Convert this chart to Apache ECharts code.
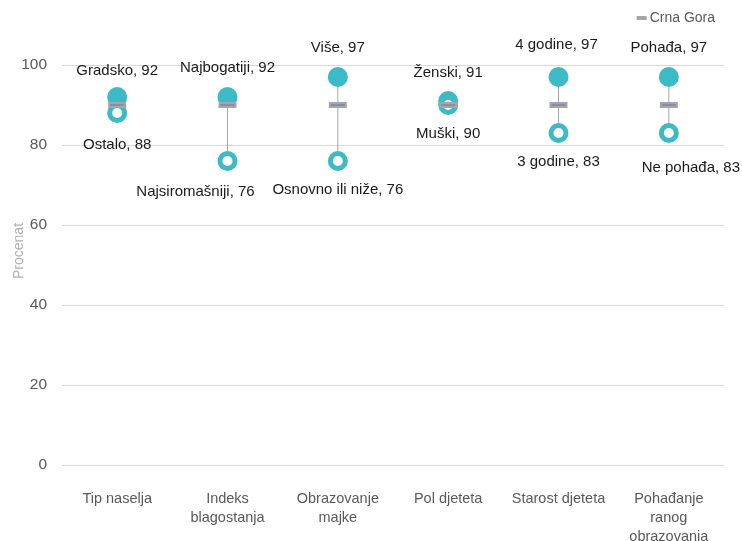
<!DOCTYPE html>
<html>
	<head>
		<meta charset="utf-8">
		<script src="https://cdn.jsdelivr.net/npm/echarts@6/dist/echarts.min.js"></script>
		<title></title>
		<style>
			body { margin: 0; background: #fff; }
		</style>
	</head>
	<body>
		<div id="main" style="width: 742px;height:541px;"></div>
		<script type="text/javascript">
			// kategorije i vrijednosti
			var categories = ['Tip naselja', 'Indeks\nblagostanja', 'Obrazovanje\nmajke', 'Pol djeteta', 'Starost djeteta', 'Pohađanje\nranog\nobrazovanja'];
			var highNames = ['Gradsko', 'Najbogatiji', 'Više', 'Ženski', '4 godine', 'Pohađa'];
			var highValues = [92, 92, 97, 91, 97, 97];
			var lowNames = ['Ostalo', 'Najsiromašniji', 'Osnovno ili niže', 'Muški', '3 godine', 'Ne pohađa'];
			var lowValues = [88, 76, 76, 90, 83, 83];
			var nationalValues = [90, 90, 90, 90, 90, 90];
			var yTicks = [0, 20, 40, 60, 80, 100];

			// pomjeranje natpisa (px)
			var highOffsets = [[0, -26], [0, -29], [0, -29], [0, -28], [-2, -32], [0, -29]];
			var lowOffsets = [[0, 32], [-32, 31], [0, 29], [0, 29], [0, 29], [22, 35]];

			var teal = '#3cbac6';
			var font = 'Liberation Sans';

			var myChart = echarts.init(document.getElementById('main'));

			var highData = highValues.map(function(v, i) {
				return {
					value: [i, v],
					label: { offset: highOffsets[i], formatter: highNames[i] + ', ' + v }
				};
			});
			var lowData = lowValues.map(function(v, i) {
				return {
					value: [i, v],
					label: { offset: lowOffsets[i], formatter: lowNames[i] + ', ' + v }
				};
			});
			var rangeData = highValues.map(function(v, i) {
				return [i, lowValues[i], v];
			});
			var nationalData = nationalValues.map(function(v, i) {
				return [i, v];
			});

			var labelStyle = {
				show: true,
				position: 'inside',
				color: '#1a1a1a',
				fontSize: 15,
				fontFamily: font
			};

			var option = {
				animation: false,
				textStyle: { fontFamily: font },
				legend: {
					top: 6,
					right: 22,
					data: [{ name: 'Crna Gora', icon: 'rect' }],
					itemWidth: 10,
					itemHeight: 4,
					itemGap: 4,
					textStyle: { color: '#595959', fontSize: 14, padding: [0, 0, 0, -2] }
				},
				grid: { left: 62, right: 18, top: 65, bottom: 76, outerBoundsMode: 'none' },
				xAxis: {
					type: 'category',
					data: categories,
					axisLine: { show: false },
					axisTick: { show: false },
					axisLabel: { color: '#595959', fontSize: 14.5, margin: 24, lineHeight: 19, interval: 0 }
				},
				yAxis: {
					type: 'value',
					min: 0,
					max: 100,
					interval: 20,
					name: 'Procenat',
					nameLocation: 'middle',
					nameGap: 36,
					nameMoveOverlap: false,
					nameTextStyle: { color: '#b0b0b0', fontSize: 14, padding: [0, 0, 0, 28] },
					axisLabel: {
						color: '#595959',
						fontSize: 15.5,
						margin: 15,
						formatter: function(v) { return yTicks.indexOf(v) >= 0 ? v : ''; }
					},
					splitLine: { lineStyle: { color: '#d9d9d9' } }
				},
				series: [{
					type: 'custom',
					name: 'raspon',
					z: 1,
					silent: true,
					renderItem: function(params, api) {
						var a = api.coord([api.value(0), api.value(1)]);
						var b = api.coord([api.value(0), api.value(2)]);
						return {
							type: 'line',
							shape: { x1: a[0], y1: a[1], x2: b[0], y2: b[1] },
							style: { stroke: '#a6a6a6', lineWidth: 1 }
						};
					},
					data: rangeData
				}, {
					type: 'scatter',
					name: 'visoko',
					z: 2,
					symbol: 'circle',
					symbolSize: 20,
					itemStyle: { color: teal, opacity: 1 },
					label: labelStyle,
					data: highData
				}, {
					type: 'scatter',
					name: 'nisko',
					z: 3,
					symbol: 'circle',
					symbolSize: 15,
					itemStyle: { color: '#fff', borderColor: teal, borderWidth: 5, opacity: 1 },
					label: labelStyle,
					data: lowData
				}, {
					type: 'custom',
					name: 'Crna Gora',
					z: 4,
					itemStyle: { color: '#a6a6a6' },
					renderItem: function(params, api) {
						var p = api.coord([api.value(0), api.value(1)]);
						return {
							type: 'group',
							children: [{
								type: 'rect',
								shape: { x: p[0] - 9, y: p[1] - 3, width: 18, height: 6 },
								style: { fill: '#a6a6a6' }
							}, {
								type: 'line',
								shape: { x1: p[0] - 7, y1: p[1], x2: p[0] + 7, y2: p[1] },
								style: { stroke: '#6f7fb0', lineWidth: 1.2 }
							}]
						};
					},
					data: nationalData
				}]
			};

			myChart.setOption(option);
		</script>
	</body>
</html>
